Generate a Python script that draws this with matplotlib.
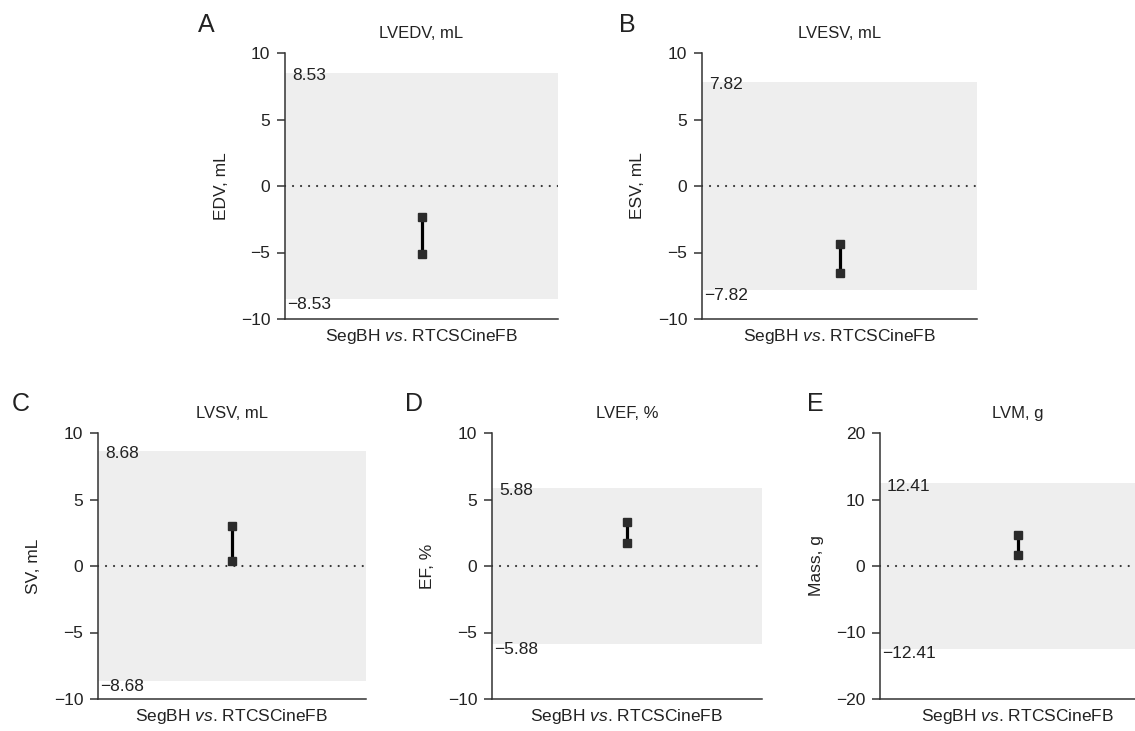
import matplotlib
matplotlib.use("Agg")
import matplotlib.pyplot as plt

plt.rcParams['font.family'] = ['Liberation Sans', 'DejaVu Sans']
plt.rcParams['mathtext.fontset'] = 'custom'
plt.rcParams['mathtext.rm'] = 'Liberation Sans'
plt.rcParams['mathtext.it'] = 'Liberation Sans:italic'
plt.rcParams['axes.unicode_minus'] = True

#############################
# data

panel_letters = ['A', 'B', 'C', 'D', 'E']
titles = ['LVEDV, mL', 'LVESV, mL', 'LVSV, mL', 'LVEF, %', 'LVM, g']
ylabels = ['EDV, mL', 'ESV, mL', 'SV, mL', 'EF, %', 'Mass, g']
loa = [8.53, 7.82, 8.68, 5.88, 12.41]          # limits of agreement (+/-)
ci_low = [-5.1, -6.56, 0.35, 1.7, 1.7]         # bias CI lower bound
ci_high = [-2.3, -4.36, 3.0, 3.33, 4.6]        # bias CI upper bound
ylims = [10, 10, 10, 10, 20]
ysteps = [5, 5, 5, 5, 10]
xlabel = r'SegBH $\it{vs}$. RTCSCineFB'

# axes boxes in pixels (left, top, width) on a 1135x731 canvas
W, H = 1135, 731
boxes = [(285, 53, 273), (702, 53, 275),
         (98, 433, 268), (492, 433, 270), (880, 433, 275)]
ax_h = 266
letter_xy = [(206, 25), (627, 25), (21, 404), (414, 404), (815, 404)]

ink = '#222222'
shade = '#eeeeee'
px = 0.72  # points per pixel at dpi 100

#############################

fig = plt.figure(figsize=(W / 100, H / 100), dpi=100)

for i in range(5):
    l, t, w = boxes[i]
    ax = fig.add_axes([l / W, 1 - (t + ax_h) / H, w / W, ax_h / H])
    lim = ylims[i]
    ax.set_xlim(0, 2)
    ax.set_ylim(-lim, lim)

    ## shaded limits of agreement + zero line
    ax.axhspan(-loa[i], loa[i], color=shade, lw=0, zorder=0)
    ax.axhline(0, color='#333333', lw=1.6, ls=(0, (0.01, 3.6)),
               dash_capstyle='round', zorder=1)
    ax.annotate(f'{loa[i]:.2f}', xy=(0, loa[i]), xytext=(7 * px, -3 * px),
                textcoords='offset points', ha='left', va='center',
                fontsize=12.5, color=ink)
    ax.annotate(f'\u2212{loa[i]:.2f}', xy=(0, -loa[i]), xytext=(2 * px, -5 * px),
                textcoords='offset points', ha='left', va='center',
                fontsize=12.5, color=ink)

    ## CI bar
    ax.plot([1, 1], [ci_low[i], ci_high[i]], color='black', lw=2.3,
            solid_capstyle='butt', zorder=3)
    ax.plot([1, 1], [ci_low[i], ci_high[i]], ls='none', marker='s',
            ms=5.2, color='#2b2b2b', zorder=4)

    ## axes styling
    for s in ['top', 'right']:
        ax.spines[s].set_visible(False)
    for s in ['left', 'bottom']:
        ax.spines[s].set_color('#333333')
        ax.spines[s].set_linewidth(1.1)
    ax.set_xticks([])
    step = ysteps[i]
    ax.set_yticks(range(-lim, lim + 1, step))
    ax.tick_params(axis='y', direction='out', length=6, width=1.1,
                   color='#333333', labelsize=12.5, labelcolor=ink, pad=4.5)
    ax.set_ylabel(ylabels[i], fontsize=12.5, color=ink)
    ax.yaxis.set_label_coords(-64 / w, 0.5)
    ax.yaxis.label.set_verticalalignment('center')
    ax.set_xlabel(xlabel, fontsize=12.5, color=ink, labelpad=6)
    ax.set_title(titles[i], fontsize=12, color=ink, pad=11)

    lx, ly = letter_xy[i]
    fig.text(lx / W, 1 - ly / H, panel_letters[i], fontsize=18,
             ha='center', va='center', color=ink)

fig.savefig('out.png', dpi=100, facecolor='white')
